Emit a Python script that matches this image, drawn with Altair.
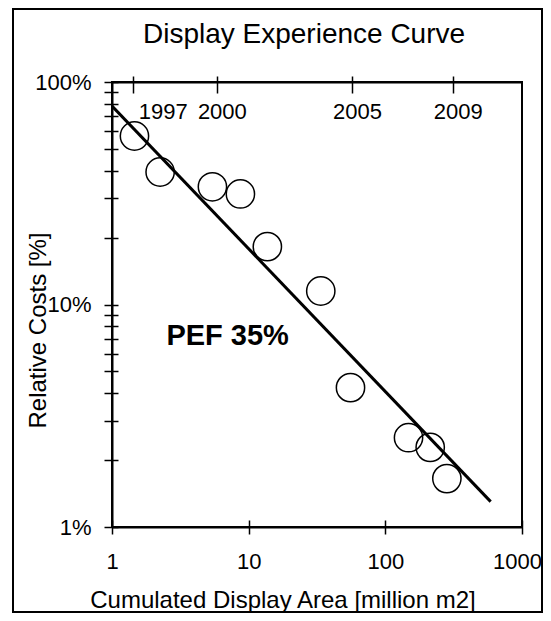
import altair as alt
import pandas as pd

# ---- data ----
area = [1.46, 2.25, 5.43, 8.7, 13.7, 33.7, 55.6, 147.8, 213, 282]      # million m2
cost = [57.2, 39.4, 33.8, 31.4, 18.2, 11.5, 4.23, 2.52, 2.28, 1.65]    # %
fit_area = [1, 590]
fit_cost = [78, 1.3]
year_area = [1.43, 5.85, 57, 311]
year_labels = ["1997", "2000", "2005", "2009"]
x_ticks = [1, 10, 100, 1000]
y_ticks = [1, 2, 3, 4, 5, 6, 7, 8, 9, 10, 20, 30, 40, 50, 60, 70, 80, 90, 100]
y_major = [1, 10, 100]
pef_text = ["PEF 35%"]
pef_area = [2.5]
pef_cost = [6.6]

FONT = "Liberation Sans"
W, H = 410, 445

pts = pd.DataFrame({"area": area, "cost": cost})
fit = pd.DataFrame({"area": fit_area, "cost": fit_cost})
ann = pd.DataFrame({"area": pef_area, "cost": pef_cost, "label": pef_text})

xs = alt.Scale(type="log", domain=[1, 1000], nice=False)
ys = alt.Scale(type="log", domain=[1, 100], nice=False)

year_expr = " : ".join(
    f"datum.value == {a} ? '{y}'" for a, y in zip(year_area, year_labels)
) + " : ''"
ymaj_expr = " || ".join(f"datum.value == {v}" for v in y_major)

common = dict(grid=False, tickColor="black", domainColor="black", labelColor="black",
              labelFont=FONT, titleFont=FONT, titleColor="black")

ax_bottom = alt.Axis(orient="bottom", values=x_ticks, labelExpr="format(datum.value, 'd')",
                     tickSize=7, tickWidth=1.5, domainWidth=2, labelFontSize=22,
                     labelPadding=17.6, labelFlush=False, labelOverlap=False,
                     labelOffset={"condition": {"test": "datum.value > 500", "value": -5},
                                  "value": 0},
                     title="Cumulated Display Area [million m2]", titleFontSize=24,
                     titleFontWeight="normal", titleX=170.5, titleY=80,
                     titleBaseline="alphabetic", titleAlign="center", **common)
ax_bottom_in = alt.Axis(orient="bottom", values=x_ticks, offset=-7, tickSize=7, tickWidth=1.5,
                        domain=False, labels=False, title=None, grid=False, tickColor="black")
ax_left = alt.Axis(orient="left", values=y_ticks,
                   labelExpr=f"({ymaj_expr}) ? datum.value + '%' : ''",
                   tickSize=8, tickWidth=1.5, domainWidth=2, labelFontSize=22,
                   labelPadding=13, labelFlush=False, labelOverlap=False,
                   title="Relative Costs [%]", titleFontSize=24, titleFontWeight="normal",
                   titleAngle=270, titleX=-67, titleY=248, titleBaseline="alphabetic",
                   titleAlign="center", **common)
ax_left_in = alt.Axis(orient="left", values=y_ticks, offset=-6, tickSize=6, tickWidth=1.5,
                      domain=False, labels=False, title=None, grid=False, tickColor="black")
ax_top = alt.Axis(orient="top", values=year_area, labelExpr=year_expr,
                  tickSize=6, tickWidth=1.5, domainWidth=2, labelFontSize=22,
                  labelPadding=-42, labelBaseline="alphabetic",
                  labelAlign={"condition": {"test": "datum.value < 2", "value": "left"},
                              "value": "center"},
                  labelOffset=5, labelFlush=False, labelOverlap=False, title=None, **common)
ax_top_in = alt.Axis(orient="top", values=year_area, offset=-11, tickSize=11, tickWidth=1.5,
                     domain=False, labels=False, title=None, grid=False, tickColor="black")

line = alt.Chart(fit).mark_line(color="black", strokeWidth=3, clip=True).encode(
    x=alt.X("area:Q", scale=xs, axis=ax_bottom),
    y=alt.Y("cost:Q", scale=ys, axis=ax_left),
)
circles = alt.Chart(pts).mark_point(shape="circle", filled=False, size=800, stroke="black",
                                    strokeWidth=1.5, opacity=1).encode(
    x=alt.X("area:Q", scale=xs, axis=ax_bottom_in),
    y=alt.Y("cost:Q", scale=ys, axis=ax_left_in),
)
label = alt.Chart(ann).mark_text(font=FONT, fontSize=29, fontWeight="bold", align="left",
                                 baseline="alphabetic", color="black").encode(
    x=alt.X("area:Q", scale=xs, axis=ax_top),
    y=alt.Y("cost:Q", scale=ys, axis=None),
    text="label:N",
)
ghost = alt.Chart(pts).mark_point(opacity=0).encode(
    x=alt.X("area:Q", scale=xs, axis=ax_top_in),
    y=alt.Y("cost:Q", scale=ys, axis=None),
)
frame = alt.Chart(ann).mark_rect(fillOpacity=0, stroke="black", strokeWidth=2, clip=False).encode(
    x=alt.value(-99), x2=alt.value(430), y=alt.value(-73), y2=alt.value(530),
)

chart = alt.layer(frame, line, circles, label, ghost).resolve_axis(
    x="independent", y="independent"
).properties(
    width=W, height=H,
    title=alt.TitleParams("Display Experience Curve", font=FONT, fontSize=28,
                          fontWeight="normal", anchor="middle", frame="group",
                          dx=-13, offset=-63, baseline="alphabetic", color="black"),
    padding={"left": 104, "top": 74, "right": 21, "bottom": 86},
    autosize=alt.AutoSizeParams(type="none"),
    background="white",
).configure_view(stroke="black", strokeWidth=2)

chart.save("out.html", embed_options={"renderer": "svg", "actions": False})
